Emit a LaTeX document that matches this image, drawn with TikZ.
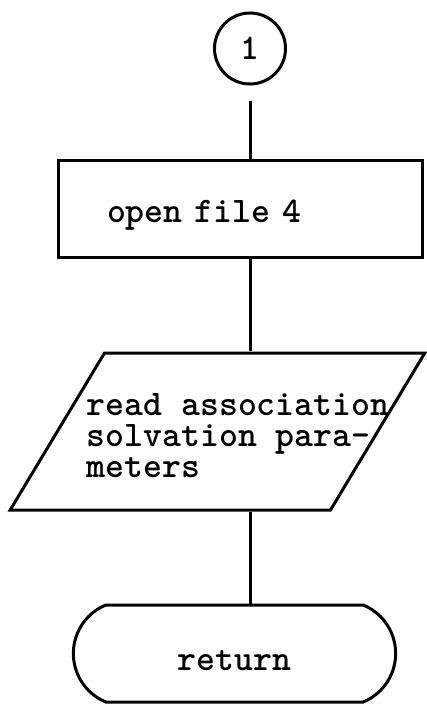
\documentclass[tikz,border=0pt]{standalone}
\usetikzlibrary{shapes.geometric,shapes.misc}

\begin{document}
\begin{tikzpicture}[x=1pt, y=-1pt, line width=3pt,
	font=\ttfamily\bfseries\fontsize{36}{31}\selectfont,
	connector/.style = {draw, circle, minimum size=71pt, inner sep=0pt},
	process/.style = {draw, rectangle, minimum width=364pt, minimum height=97pt, inner xsep=49pt, text width=266pt, align=left, text height=27pt, text depth=0pt},
	inout/.style = {draw, trapezium, trapezium left angle=59, trapezium right angle=121, inner sep=0pt, text width=226pt, text height=157pt, text depth=0pt},
	terminal/.style = {draw, rounded rectangle, rounded rectangle arc length=135, minimum width=329pt, minimum height=97pt, text height=33pt, text depth=0pt}]
	\useasboundingbox (0,0) rectangle (426,704);
	\node[connector] (1) at (250,48.5) {1};
	\node[process] (2) at (240,208.5) {open file 4};
	\node[inout] (3) at (217.5,431.5) [label={[align=left, xshift=20.5pt, yshift=-4pt]center:{read association\\solvation para-\\meters}}] {};
	\node[terminal] (4) at (234.5,653.5) {return};
	\draw[shorten <=15pt] (1.south) -- (1 |- 2.north);
	\draw (1 |- 2.south) -- (1 |- 3.north);
	\draw (1 |- 3.south) -- (1 |- 4.north);
\end{tikzpicture}
\end{document}
